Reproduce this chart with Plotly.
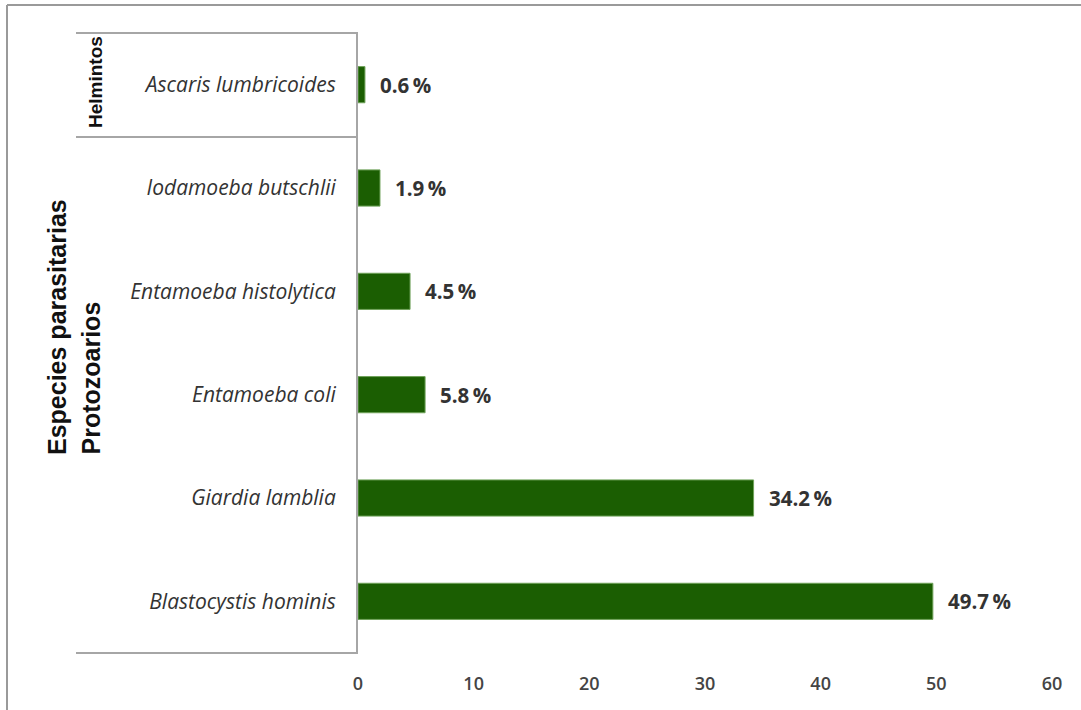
import plotly.graph_objects as go

species = ["Blastocystis hominis", "Giardia lamblia", "Entamoeba coli",
           "Entamoeba histolytica", "Iodamoeba butschlii", "Ascaris lumbricoides"]
values = [49.7, 34.2, 5.8, 4.5, 1.9, 0.6]
value_labels = ["49.7\u2009%", "34.2\u2009%", "5.8\u2009%", "4.5\u2009%", "1.9\u2009%", "0.6\u2009%"]
x_ticks = [0, 10, 20, 30, 40, 50, 60]

W, H = 1081, 710
L, R, T, B = 358, 1052, 33, 653
pw, ph = R - L, B - T

def px(x):
    return (x - L) / pw

def py(y):
    return (B - y) / ph

fig = go.Figure()
fig.add_trace(go.Bar(
    x=values, y=species, orientation="h",
    marker=dict(color="#1B5E02", line=dict(color="#6FA25A", width=1)),
    width=0.35, hoverinfo="skip"
))

annotations = []
for v, s, t in zip(values, species, value_labels):
    annotations.append(dict(x=v, y=s, xref="x", yref="y", text=t, showarrow=False,
                            xanchor="left", xshift=13,
                            font=dict(family="Open Sans", size=20.5, color="#333333", weight=700)))

annotations += [
    dict(x=px(57), y=py(457), xref="paper", yref="paper", text="<b>Especies parasitarias</b>",
         textangle=-90, showarrow=False, xanchor="center", yanchor="bottom",
         font=dict(family="Liberation Sans", size=25, color="#111111")),
    dict(x=px(90), y=py(457), xref="paper", yref="paper", text="<b>Protozoarios</b>",
         textangle=-90, showarrow=False, xanchor="center", yanchor="bottom",
         font=dict(family="Liberation Sans", size=25, color="#111111")),
    dict(x=px(96), y=py(82), xref="paper", yref="paper", text="<b>Helmintos</b>",
         textangle=-90, showarrow=False, xanchor="center", yanchor="middle",
         font=dict(family="Liberation Sans", size=19, color="#111111")),
]

line_style = dict(color="#A6A6A6", width=2)
shapes = [
    dict(type="line", xref="paper", yref="paper", x0=px(76), x1=px(L), y0=py(T), y1=py(T), line=line_style),
    dict(type="line", xref="paper", yref="paper", x0=px(76), x1=px(L), y0=py(137), y1=py(137), line=line_style),
    dict(type="line", xref="paper", yref="paper", x0=px(76), x1=px(L), y0=py(B), y1=py(B), line=line_style),
    dict(type="line", xref="paper", yref="paper", x0=px(7), x1=px(W + 5), y0=py(5), y1=py(5),
         line=dict(color="#9A9A9A", width=2)),
    dict(type="line", xref="paper", yref="paper", x0=px(7), x1=px(7), y0=py(5), y1=py(H + 5),
         line=dict(color="#9A9A9A", width=2)),
]

fig.update_layout(
    width=W, height=H,
    margin=dict(l=L, r=W - R, t=T, b=H - B),
    paper_bgcolor="white", plot_bgcolor="white",
    showlegend=False,
    annotations=annotations, shapes=shapes,
    xaxis=dict(range=[0, 60], tickvals=x_ticks, showgrid=False, zeroline=False, showline=False,
               ticks="", ticklabelstandoff=18,
               tickfont=dict(family="Open Sans", size=18, color="#444444", weight=600)),
    yaxis=dict(categoryorder="array", categoryarray=species, showgrid=False, zeroline=False,
               showline=True, linecolor="#A6A6A6", linewidth=2, ticks="",
               ticklabelstandoff=16,
               tickfont=dict(family="Open Sans", size=21, color="#333333", style="italic")),
)

fig.write_html("out.html")
